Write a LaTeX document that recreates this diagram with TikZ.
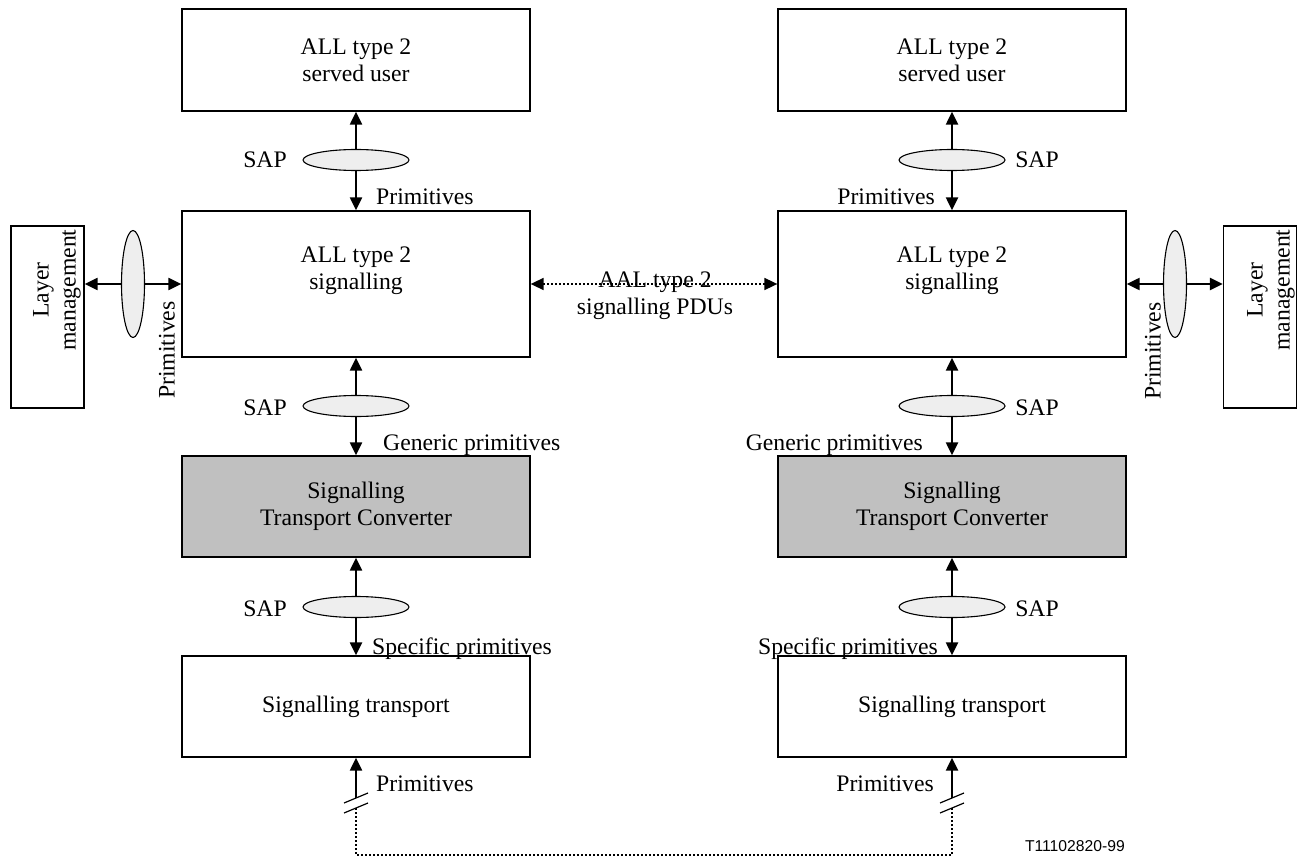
\documentclass[tikz,border=0pt]{standalone}
\usepackage{fontspec}
\setmainfont{Liberation Serif}
\newfontfamily\arialf{Liberation Sans}
\usetikzlibrary{arrows.meta,shapes.geometric}
\definecolor{stcgray}{RGB}{192,192,192}
\definecolor{sapfill}{RGB}{238,238,238}
\begin{document}
\begin{tikzpicture}[x=1pt,y=-1pt,
  font=\fontsize{23.7}{27}\selectfont,
  box/.style={draw, line width=1.3pt, minimum width=348pt, inner sep=0pt, align=center},
  gbox/.style={box, fill=stcgray},
  lmbox/.style={draw, line width=1.3pt, minimum width=73pt, minimum height=182pt, inner sep=0pt},
  sap/.style={ellipse, draw, line width=1.1pt, fill=sapfill, minimum width=106pt, minimum height=21pt, inner sep=0pt},
  vsap/.style={sap, minimum width=23pt, minimum height=107pt},
  tip/.tip={Triangle[length=13pt,width=12pt]},
  arr/.style={line width=2.2pt, -tip},
  biarr/.style={line width=2.2pt, tip-tip},
  dotline/.style={line width=1.7pt, dash pattern=on 2pt off 2pt},
  brk/.style={line width=1.2pt},
  txt/.style={inner sep=0pt, align=center}]
\useasboundingbox (0,0) rectangle (1298,861);

% left column
\node[box, minimum height=102pt] (u1) at (356,60) {ALL type 2\\served user};
\node[box, minimum height=146pt] (s1) at (356,284) {};
\node[txt] (s1t) at (356,271) {ALL type 2\\signalling};
\node[gbox, minimum height=101pt] (c1) at (356,506.5) {Signalling\\Transport Converter};
\node[box, minimum height=101pt] (t1) at (356,706.5) {Signalling transport};

% right column
\node[box, minimum height=102pt] (u2) at (952,60) {ALL type 2\\served user};
\node[box, minimum height=146pt] (s2) at (952,284) {};
\node[txt] (s2t) at (952,271) {ALL type 2\\signalling};
\node[gbox, minimum height=101pt] (c2) at (952,506.5) {Signalling\\Transport Converter};
\node[box, minimum height=101pt] (t2) at (952,706.5) {Signalling transport};

% layer management
\node[lmbox] (lm1) at (47.5,317) {};
\node[txt, rotate=90] (lm1t) at (57,290) {Layer\\management};
\node[lmbox] (lm2) at (1260,317) {};
\node[txt, rotate=90] (lm2t) at (1271,290) {Layer\\management};

% vertical arrows
\draw[biarr] (u1.south) -- (s1.north);
\draw[biarr] (s1.south) -- (c1.north);
\draw[biarr] (c1.south) -- (t1.north);
\draw[biarr] (u2.south) -- (s2.north);
\draw[biarr] (s2.south) -- (c2.north);
\draw[biarr] (c2.south) -- (t2.north);

% horizontal arrows to layer management
\draw[biarr] (lm1.east |- s1.west) -- (s1.west);
\draw[biarr] (s2.east) -- (lm2.west |- s2.east);

% peer dotted arrow
\draw[dotline, tip-tip] (s1.east) -- (s2.west);
\node[txt] (pdu) at (655,296) {AAL type 2\\signalling PDUs};

% SAP ellipses
\node[sap] (e1) at (356,160) {};
\node[sap] (e2) at (356,406) {};
\node[sap] (e3) at (356,607) {};
\node[sap] (e4) at (952,160) {};
\node[sap] (e5) at (952,406) {};
\node[sap] (e6) at (952,607) {};
\node[vsap] (e7) at (133,284) {};
\node[vsap] (e8) at (1175,284) {};

% SAP labels
\node[txt] (l1) at (265,160) {SAP};
\node[txt] (l2) at (265,408) {SAP};
\node[txt] (l3) at (265,609) {SAP};
\node[txt] (l4) at (1037,160) {SAP};
\node[txt] (l5) at (1037,408) {SAP};
\node[txt] (l6) at (1037,609) {SAP};

% primitive labels
\node[txt, anchor=base west] (p1) at (376,205) {Primitives};
\node[txt, anchor=base west] (p2) at (383,450) {Generic primitives};
\node[txt, anchor=base west] (p3) at (372,654) {Specific primitives};
\node[txt, anchor=base west] (p4) at (376,791) {Primitives};
\node[txt, anchor=base east] (p5) at (935,205) {Primitives};
\node[txt, anchor=base east] (p6) at (923,450) {Generic primitives};
\node[txt, anchor=base east] (p7) at (938,654) {Specific primitives};
\node[txt, anchor=base east] (p8) at (934,791) {Primitives};
\node[txt, rotate=90] (p9) at (167,350) {Primitives};
\node[txt, rotate=90] (p10) at (1153,351) {Primitives};

% bottom connection
\coordinate (b1) at (356,798);
\coordinate (d1) at (356,808);
\coordinate (b2) at (952,798);
\coordinate (d2) at (952,808);
\coordinate (f1) at (356,855);
\draw[arr] (b1) -- (t1.south);
\draw[arr] (b2) -- (t2.south);
\draw[brk] (b1) ++(-12,5) -- ++(24,-10);
\draw[brk] (d1) ++(-12,5) -- ++(24,-10);
\draw[brk] (b2) ++(-12,5) -- ++(24,-10);
\draw[brk] (d2) ++(-12,5) -- ++(24,-10);
\draw[dotline] (d1) -- (f1) -| (d2);

\node[txt, anchor=base east, font=\arialf\fontsize{15.7}{18}\selectfont] (id) at (1125,851) {T11102820-99};
\end{tikzpicture}
\end{document}
